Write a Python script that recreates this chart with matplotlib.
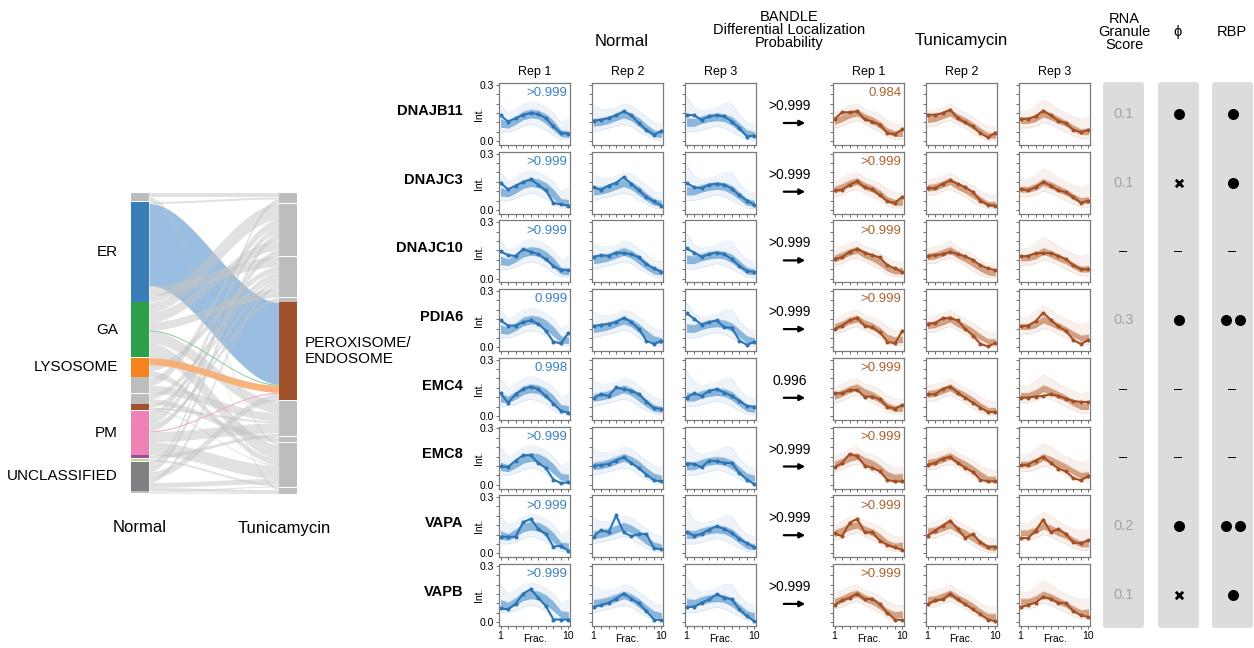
import numpy as np
import matplotlib.pyplot as plt
from matplotlib.patches import FancyBboxPatch, Rectangle

plt.rcParams['font.family'] = ['Liberation Sans', 'DejaVu Sans']

# ---- profile data (fractions 1..10) ----
genes = ['DNAJB11', 'DNAJC3', 'DNAJC10', 'PDIA6', 'EMC4', 'EMC8', 'VAPA', 'VAPB']
fractions = np.arange(1, 11)

normal_rep1 = [
    [0.138, 0.105, 0.123, 0.141, 0.150, 0.145, 0.123, 0.079, 0.043, 0.041],
    [0.145, 0.109, 0.130, 0.148, 0.163, 0.134, 0.104, 0.038, 0.029, 0.023],
    [0.145, 0.125, 0.121, 0.157, 0.143, 0.130, 0.104, 0.068, 0.046, 0.046],
    [0.143, 0.116, 0.116, 0.134, 0.143, 0.125, 0.089, 0.030, 0.021, 0.077],
    [0.121, 0.071, 0.116, 0.143, 0.157, 0.143, 0.107, 0.066, 0.027, 0.018],
    [0.098, 0.095, 0.129, 0.157, 0.157, 0.116, 0.089, 0.027, 0.009, 0.013],
    [0.089, 0.089, 0.089, 0.166, 0.184, 0.130, 0.104, 0.036, 0.041, 0.014],
    [0.073, 0.068, 0.098, 0.152, 0.175, 0.130, 0.086, 0.014, 0.014, 0.014],
]
normal_rep2 = [
    [0.110, 0.114, 0.123, 0.138, 0.159, 0.138, 0.096, 0.061, 0.034, 0.055],
    [0.121, 0.107, 0.130, 0.145, 0.175, 0.139, 0.104, 0.068, 0.045, 0.023],
    [0.116, 0.125, 0.121, 0.139, 0.136, 0.130, 0.113, 0.077, 0.054, 0.036],
    [0.113, 0.120, 0.125, 0.134, 0.157, 0.134, 0.098, 0.036, 0.018, 0.036],
    [0.095, 0.116, 0.107, 0.152, 0.143, 0.134, 0.116, 0.077, 0.041, 0.039],
    [0.102, 0.104, 0.111, 0.129, 0.146, 0.116, 0.089, 0.054, 0.023, 0.018],
    [0.089, 0.125, 0.113, 0.202, 0.113, 0.091, 0.104, 0.104, 0.027, 0.023],
    [0.080, 0.091, 0.104, 0.125, 0.152, 0.125, 0.100, 0.059, 0.014, 0.011],
]
normal_rep3 = [
    [0.141, 0.138, 0.114, 0.132, 0.138, 0.132, 0.105, 0.070, 0.025, 0.030],
    [0.143, 0.121, 0.116, 0.134, 0.139, 0.134, 0.113, 0.077, 0.050, 0.027],
    [0.161, 0.139, 0.116, 0.130, 0.139, 0.130, 0.104, 0.068, 0.041, 0.036],
    [0.182, 0.152, 0.121, 0.134, 0.143, 0.107, 0.104, 0.036, 0.013, 0.030],
    [0.098, 0.121, 0.107, 0.134, 0.143, 0.125, 0.107, 0.080, 0.054, 0.050],
    [0.113, 0.111, 0.093, 0.129, 0.125, 0.116, 0.116, 0.063, 0.027, 0.004],
    [0.113, 0.095, 0.104, 0.127, 0.145, 0.130, 0.109, 0.077, 0.054, 0.032],
    [0.080, 0.082, 0.104, 0.121, 0.148, 0.130, 0.121, 0.068, 0.032, 0.005],
]
tunica_rep1 = [
    [0.118, 0.154, 0.154, 0.159, 0.118, 0.105, 0.088, 0.043, 0.038, 0.064],
    [0.104, 0.107, 0.134, 0.152, 0.121, 0.109, 0.080, 0.045, 0.038, 0.071],
    [0.107, 0.113, 0.143, 0.157, 0.139, 0.125, 0.113, 0.071, 0.054, 0.036],
    [0.098, 0.116, 0.143, 0.157, 0.116, 0.107, 0.080, 0.030, 0.021, 0.089],
    [0.121, 0.121, 0.139, 0.139, 0.102, 0.104, 0.089, 0.050, 0.039, 0.059],
    [0.093, 0.116, 0.164, 0.152, 0.102, 0.089, 0.071, 0.027, 0.018, 0.018],
    [0.107, 0.091, 0.163, 0.184, 0.113, 0.113, 0.068, 0.045, 0.032, 0.018],
    [0.091, 0.116, 0.130, 0.152, 0.121, 0.125, 0.095, 0.050, 0.014, 0.011],
]
tunica_rep2 = [
    [0.141, 0.141, 0.150, 0.168, 0.123, 0.100, 0.079, 0.043, 0.020, 0.046],
    [0.116, 0.116, 0.139, 0.157, 0.139, 0.121, 0.095, 0.050, 0.027, 0.023],
    [0.121, 0.125, 0.130, 0.143, 0.130, 0.118, 0.100, 0.071, 0.054, 0.045],
    [0.125, 0.129, 0.155, 0.155, 0.143, 0.098, 0.063, 0.018, 0.005, 0.023],
    [0.116, 0.116, 0.143, 0.157, 0.125, 0.098, 0.071, 0.045, 0.021, 0.021],
    [0.107, 0.116, 0.139, 0.148, 0.116, 0.089, 0.068, 0.027, 0.018, 0.018],
    [0.095, 0.121, 0.148, 0.175, 0.130, 0.082, 0.104, 0.059, 0.036, 0.036],
    [0.095, 0.116, 0.121, 0.152, 0.121, 0.095, 0.068, 0.041, 0.014, 0.005],
]
tunica_rep3 = [
    [0.120, 0.120, 0.132, 0.163, 0.138, 0.109, 0.096, 0.061, 0.048, 0.061],
    [0.113, 0.104, 0.121, 0.148, 0.130, 0.104, 0.095, 0.068, 0.038, 0.050],
    [0.118, 0.121, 0.136, 0.136, 0.136, 0.121, 0.104, 0.071, 0.050, 0.050],
    [0.111, 0.116, 0.139, 0.184, 0.146, 0.111, 0.089, 0.039, 0.018, 0.039],
    [0.098, 0.098, 0.104, 0.107, 0.116, 0.107, 0.093, 0.080, 0.075, 0.075],
    [0.104, 0.107, 0.129, 0.148, 0.116, 0.086, 0.071, 0.036, 0.023, 0.048],
    [0.082, 0.082, 0.121, 0.180, 0.113, 0.130, 0.104, 0.059, 0.054, 0.071],
    [0.080, 0.091, 0.104, 0.134, 0.125, 0.104, 0.100, 0.059, 0.036, 0.027],
]

# marker-protein spread per replicate: dense core and faint fringe (low, high)
core_lo = [
    [0.075, 0.070, 0.090, 0.115, 0.125, 0.120, 0.095, 0.060, 0.025, 0.020],
    [0.080, 0.085, 0.095, 0.110, 0.125, 0.110, 0.080, 0.050, 0.025, 0.020],
    [0.080, 0.080, 0.095, 0.105, 0.110, 0.105, 0.085, 0.055, 0.025, 0.020],
    [0.090, 0.105, 0.125, 0.135, 0.110, 0.095, 0.070, 0.040, 0.025, 0.025],
    [0.100, 0.105, 0.120, 0.135, 0.110, 0.090, 0.065, 0.040, 0.020, 0.015],
    [0.095, 0.095, 0.105, 0.130, 0.115, 0.095, 0.080, 0.055, 0.035, 0.035],
]
core_hi = [
    [0.120, 0.105, 0.130, 0.160, 0.170, 0.165, 0.145, 0.110, 0.060, 0.055],
    [0.120, 0.125, 0.135, 0.150, 0.165, 0.150, 0.125, 0.090, 0.060, 0.050],
    [0.125, 0.120, 0.135, 0.145, 0.150, 0.145, 0.130, 0.095, 0.060, 0.050],
    [0.125, 0.140, 0.160, 0.170, 0.145, 0.130, 0.105, 0.070, 0.055, 0.060],
    [0.135, 0.140, 0.155, 0.170, 0.145, 0.125, 0.100, 0.070, 0.045, 0.045],
    [0.125, 0.125, 0.140, 0.165, 0.150, 0.130, 0.110, 0.085, 0.065, 0.070],
]
fringe_lo = [
    [0.050, 0.050, 0.060, 0.080, 0.090, 0.080, 0.060, 0.030, 0.010, 0.010],
    [0.050, 0.060, 0.070, 0.080, 0.090, 0.080, 0.050, 0.030, 0.010, 0.005],
    [0.050, 0.050, 0.060, 0.070, 0.080, 0.070, 0.050, 0.030, 0.010, 0.005],
    [0.070, 0.080, 0.100, 0.110, 0.090, 0.070, 0.050, 0.020, 0.010, 0.010],
    [0.080, 0.080, 0.100, 0.110, 0.090, 0.070, 0.040, 0.020, 0.005, 0.005],
    [0.070, 0.070, 0.080, 0.100, 0.090, 0.070, 0.050, 0.030, 0.015, 0.015],
]
fringe_hi = [
    [0.200, 0.150, 0.170, 0.200, 0.210, 0.200, 0.180, 0.150, 0.100, 0.120],
    [0.190, 0.170, 0.170, 0.180, 0.200, 0.190, 0.160, 0.130, 0.100, 0.090],
    [0.240, 0.180, 0.160, 0.170, 0.180, 0.200, 0.200, 0.140, 0.100, 0.090],
    [0.150, 0.170, 0.190, 0.200, 0.170, 0.160, 0.140, 0.110, 0.090, 0.090],
    [0.160, 0.170, 0.180, 0.200, 0.170, 0.150, 0.130, 0.100, 0.080, 0.080],
    [0.160, 0.160, 0.190, 0.220, 0.200, 0.170, 0.150, 0.130, 0.120, 0.130],
]

normal_prob = ['>0.999', '>0.999', '>0.999', '0.999', '0.998', '>0.999', '>0.999', '>0.999']
tunica_prob = ['0.984', '>0.999', '>0.999', '>0.999', '>0.999', '>0.999', '>0.999', '>0.999']
bandle_prob = ['>0.999', '>0.999', '>0.999', '>0.999', '0.996', '>0.999', '>0.999', '>0.999']
rna_score = ['0.1', '0.1', '–', '0.3', '–', '–', '0.2', '0.1']
phi_mark = ['dot', 'cross', '–', 'dot', '–', '–', 'dot', 'cross']
rbp_mark = ['dot', 'dot', '–', 'dot2', '–', '–', 'dot2', 'dot']

# ---- sankey data ----
left_names = ['', 'ER', 'GA', 'LYSOSOME', '', '', '', 'PM', '', '', 'UNCLASSIFIED', '']
left_colors = ['#bdbdbd', '#377eb8', '#2ca048', '#f5821f', '#bdbdbd', '#bdbdbd',
               '#a0522d', '#ee82b4', '#984ea3', '#b8d98a', '#7f8084', '#bdbdbd']
right_names = ['', '', '', '', '', '', 'PEROXISOME/\nENDOSOME', '', '', '', '', '', '']
right_colors = ['#bdbdbd'] * 6 + ['#a0522d'] + ['#bdbdbd'] * 6
flow_src = [0, 0, 0,
            1, 1, 1, 1,
            2, 2, 2, 2, 2, 2,
            3, 3, 3,
            4, 4, 5, 5, 6, 6, 6,
            7, 7, 7, 7, 7, 7, 7,
            8, 9,
            10, 10, 10, 10, 10, 10,
            11, 11]
flow_tgt = [0, 10, 12,
            0, 6, 3, 1,
            1, 2, 4, 6, 7, 10,
            6, 3, 10,
            1, 7, 3, 9, 3, 7, 10,
            1, 2, 5, 3, 6, 7, 10,
            8, 11,
            0, 1, 6, 3, 10, 12,
            11, 12]
flow_n = [4, 2, 2,
          2, 82, 10, 6,
          10, 10, 8, 1, 12, 14,
          7, 6, 6,
          8, 8, 5, 5, 3, 2, 1,
          6, 6, 4, 4, 1, 10, 13,
          3, 2,
          4, 6, 7, 4, 5, 3,
          1, 1]
flow_light = {1: '#94bbe0', 2: '#7cc58e', 3: '#f8ae74', 7: '#f2a0c5'}
PEROX = 6

W, H = 1254, 648
fig = plt.figure(figsize=(W / 100, H / 100), dpi=100)


def px_axes(x, y, w, h):
    return fig.add_axes([x / W, 1 - (y + h) / H, w / W, h / H])


bg = px_axes(0, 0, W, H)
bg.set_xlim(0, W)
bg.set_ylim(H, 0)
bg.axis('off')

# ---- sankey ----
NODE_W = 18
GAP = 0.55
sk = px_axes(131, 193, 166, 301)
sk.set_xlim(0, 166)
sk.set_ylim(301, 0)
sk.axis('off')

left_sizes = [sum(n for s, n in zip(flow_src, flow_n) if s == i) for i in range(len(left_names))]
right_sizes = [sum(n for t, n in zip(flow_tgt, flow_n) if t == i) for i in range(len(right_names))]
left_tops = np.concatenate([[0], np.cumsum(np.array(left_sizes) + GAP)[:-1]])
right_tops = np.concatenate([[0], np.cumsum(np.array(right_sizes) + GAP)[:-1]])

src_y = {}
off = left_tops.astype(float).copy()
for k, (s, n) in enumerate(zip(flow_src, flow_n)):
    src_y[k] = off[s]
    off[s] += n
tgt_y = {}
off = right_tops.astype(float).copy()
for k in sorted(range(len(flow_n)), key=lambda k: (flow_tgt[k], flow_src[k], k)):
    tgt_y[k] = off[flow_tgt[k]]
    off[flow_tgt[k]] += flow_n[k]

xs = np.linspace(NODE_W, 166 - NODE_W, 80)
u = (xs - xs[0]) / (xs[-1] - xs[0])
ease = u * u * (3 - 2 * u)


def draw_flow(k, color, alpha, z):
    top = src_y[k] + (tgt_y[k] - src_y[k]) * ease
    sk.fill_between(xs, top, top + flow_n[k], color=color, alpha=alpha, lw=0, zorder=z)


colored = [k for k in range(len(flow_n)) if flow_tgt[k] == PEROX and flow_src[k] in flow_light]
draw_flow(flow_src.index(1) + 1, flow_light[1], 0.95, 1)
for k in range(len(flow_n)):
    if k not in colored:
        draw_flow(k, '#c4c4c4', 0.5, 2)
for k in colored:
    if flow_src[k] != 1:
        draw_flow(k, flow_light[flow_src[k]], 0.95, 3)

for top, size, c in zip(left_tops, left_sizes, left_colors):
    sk.add_patch(Rectangle((0, top), NODE_W, size, color=c, lw=0, zorder=4))
for top, size, c in zip(right_tops, right_sizes, right_colors):
    sk.add_patch(Rectangle((166 - NODE_W, top), NODE_W, size, color=c, lw=0, zorder=4))
for top, size, name in zip(left_tops, left_sizes, left_names):
    if name:
        sk.text(-13, top + size / 2, name, ha='right', va='center', fontsize=11)
for top, size, name in zip(right_tops, right_sizes, right_names):
    if name:
        sk.text(174, top + size / 2, name, ha='left', va='center', fontsize=11, linespacing=1.15)

bg.text(140, 528, 'Normal', ha='center', va='center', fontsize=12)
bg.text(284, 528, 'Tunicamycin', ha='center', va='center', fontsize=12)

# ---- profile panels ----
col_x = [499, 592, 685, 833, 926, 1019]
PW, PH = 71, 62
row_y = [83 + 68.7 * i for i in range(len(genes))]
columns = [normal_rep1, normal_rep2, normal_rep3, tunica_rep1, tunica_rep2, tunica_rep3]
band_col = ['#3b84c4'] * 3 + ['#b4612e'] * 3
line_col = ['#2c74b4'] * 3 + ['#a24f25'] * 3
text_col = ['#3a82c2', '#b0602f']

for r, gene in enumerate(genes):
    for c, (cx, data) in enumerate(zip(col_x, columns)):
        ax = px_axes(cx, row_y[r], PW, PH)
        ax.fill_between(fractions, fringe_lo[c], fringe_hi[c], color=band_col[c], alpha=0.09, lw=0)
        ax.fill_between(fractions, core_lo[c], core_hi[c], color=band_col[c], alpha=0.55, lw=0)
        for edge in (fringe_lo[c], fringe_hi[c], core_lo[c], core_hi[c]):
            ax.plot(fractions, edge, color=band_col[c], alpha=0.15, lw=0.5)
        ax.plot(fractions, data[r], color=line_col[c], lw=1.5, marker='o', ms=1.9)
        ax.set_xlim(0.8, 10.2)
        ax.set_ylim(-0.02, 0.31)
        ax.set_xticks(fractions)
        ax.set_yticks(np.arange(0, 0.31, 0.05))
        ax.tick_params(direction='out', length=2, width=0.6, colors='#555555',
                       labelsize=7.5, pad=1.5)
        ax.tick_params(axis='both', labelcolor='black')
        for sp in ax.spines.values():
            sp.set_color('#7a7a7a')
            sp.set_linewidth(0.9)
        if c == 0:
            ax.set_yticklabels(['0.0', '', '', '', '', '', '0.3'])
            ax.set_ylabel('Int.', fontsize=7.5, labelpad=-3)
        else:
            ax.set_yticklabels([])
        if r == len(genes) - 1:
            ax.set_xticklabels(['1'] + [''] * 8 + ['10'])
            ax.set_xlabel('Frac.', fontsize=7.5, labelpad=-5)
        else:
            ax.set_xticklabels([])
        if c == 0:
            ax.text(0.96, 0.93, normal_prob[r], transform=ax.transAxes, ha='right', va='top',
                    fontsize=9.5, color=text_col[0])
        if c == 3:
            ax.text(0.96, 0.93, tunica_prob[r], transform=ax.transAxes, ha='right', va='top',
                    fontsize=9.5, color=text_col[1])

    bg.text(463, row_y[r] + 28, gene, ha='right', va='center', fontsize=10.5, fontweight='bold')
    bg.text(790, row_y[r] + 23, bandle_prob[r], ha='center', va='center', fontsize=10)
    bg.annotate('', xy=(808, row_y[r] + 40), xytext=(781, row_y[r] + 40),
                arrowprops=dict(arrowstyle='-|>', color='black', lw=1.6, mutation_scale=8))

# ---- score columns ----
box_x = [1103, 1158, 1212]
for bx in box_x:
    bg.add_patch(FancyBboxPatch((bx, 82), 41, 546, boxstyle='round,pad=0,rounding_size=3',
                                fc='#dcdcdc', ec='none'))
for r in range(len(genes)):
    yc = row_y[r] + PH / 2
    s = rna_score[r]
    bg.text(1123.5, yc, s, ha='center', va='center', fontsize=10.5,
            color='black' if s == '–' else '#a3a3a3')
    for cx, mark in ((1178.5, phi_mark[r]), (1232.5, rbp_mark[r])):
        if mark == 'dot':
            bg.scatter([cx], [yc], s=48, color='black', zorder=5)
        elif mark == 'dot2':
            bg.scatter([cx - 7, cx + 7], [yc, yc], s=48, color='black', zorder=5)
        elif mark == 'cross':
            bg.scatter([cx], [yc], s=28, marker='x', color='black', linewidths=2.0, zorder=5)
        else:
            bg.text(cx, yc, '–', ha='center', va='center', fontsize=10.5)

# ---- headers ----
for c, cx in enumerate(col_x):
    bg.text(cx + PW / 2, 72, f'Rep {c % 3 + 1}', ha='center', va='center', fontsize=9)
bg.text(622, 41, 'Normal', ha='center', va='center', fontsize=12)
bg.text(961, 41, 'Tunicamycin', ha='center', va='center', fontsize=12)
bg.text(789, 30, 'BANDLE\nDifferential Localization\nProbability', ha='center', va='center',
        fontsize=10.5, linespacing=0.95)
bg.text(1124, 32, 'RNA\nGranule\nScore', ha='center', va='center', fontsize=10.5, linespacing=0.95)
bg.text(1178, 32, 'ϕ', ha='center', va='center', fontsize=10.5)
bg.text(1232, 32, 'RBP', ha='center', va='center', fontsize=10.5)

fig.savefig('out.png', dpi=100)
